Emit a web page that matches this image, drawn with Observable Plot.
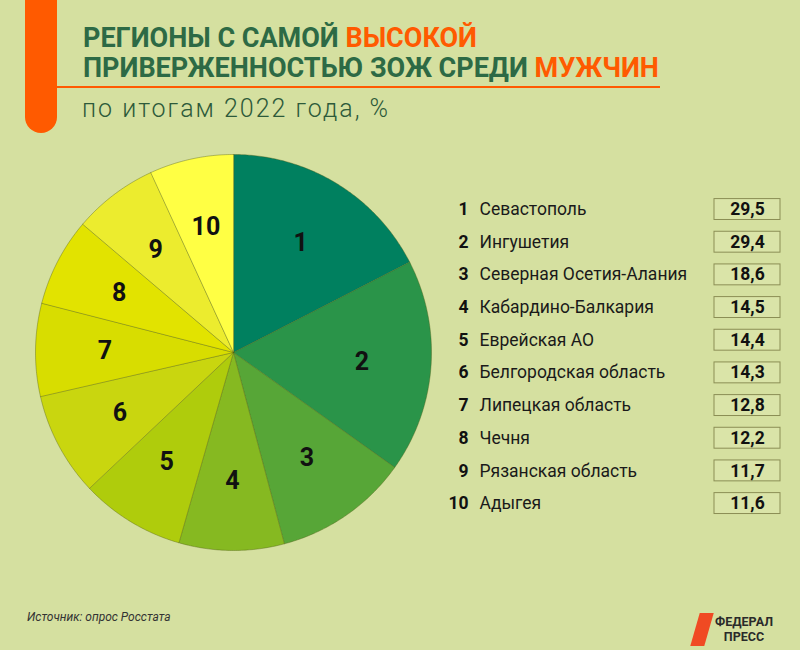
<!DOCTYPE html>
<html>
<head>
<meta charset="utf-8">
<script src="https://cdn.jsdelivr.net/npm/d3@7"></script>
<script src="https://cdn.jsdelivr.net/npm/@observablehq/plot@0.6"></script>
<style>
  html, body { margin: 0; padding: 0; }
  body { width: 800px; height: 650px; background: #d5e0a0; overflow: hidden; font-family: Roboto, "Noto Sans", sans-serif; }
  #wrap { position: relative; width: 800px; height: 650px; }
  .bar { position: absolute; left: 25px; top: -20px; width: 32px; height: 153px; background: #ff5a00; border-radius: 0 0 16px 16px; }
  .rule { position: absolute; left: 57px; top: 86px; width: 603px; height: 2px; background: #ff5a00; }
  .t { position: absolute; left: 83px; font-weight: 700; font-size: 27px; color: #2d6a45; white-space: nowrap; }
  .t span { color: #ff5a00; }
  .sub { position: absolute; left: 82px; top: 94px; font-weight: 300; font-size: 25px; letter-spacing: 2px; color: #2d5a3a; white-space: nowrap; }
  #pie { position: absolute; left: 33px; top: 152px; }
  #legend { position: absolute; left: 440px; top: 190px; }
  .src { position: absolute; left: 27px; top: 610px; font-size: 12px; font-style: italic; color: #333; }
  .logo { position: absolute; left: 688px; top: 610px; width: 84px; height: 38px; }
  .logo .ic { position: absolute; left: 7px; top: 3px; width: 14px; height: 33px; background: #f04a23; transform: skewX(-16deg); }
  .logo .tx { position: absolute; left: 27px; top: 4px; font-weight: 700; font-size: 12.5px; line-height: 15px; color: #2a2a2a; text-align: center; }
</style>
</head>
<body>
<div id="wrap">
  <div class="bar"></div>
  <div class="t" style="top:22px">РЕГИОНЫ С САМОЙ <span>ВЫСОКОЙ</span></div>
  <div class="t" style="top:52px">ПРИВЕРЖЕННОСТЬЮ ЗОЖ СРЕДИ <span>МУЖЧИН</span></div>
  <div class="rule"></div>
  <div class="sub">по итогам 2022 года, %</div>
  <div id="pie"></div>
  <div id="legend"></div>
  <div class="src">Источник: опрос Росстата</div>
  <div class="logo"><div class="ic"></div><div class="tx">ФЕДЕРАЛ<br>ПРЕСС</div></div>
</div>
<script>
const ranks = [1, 2, 3, 4, 5, 6, 7, 8, 9, 10];
const regions = ["Севастополь", "Ингушетия", "Северная Осетия-Алания", "Кабардино-Балкария", "Еврейская АО", "Белгородская область", "Липецкая область", "Чечня", "Рязанская область", "Адыгея"];
const values = [29.5, 29.4, 18.6, 14.5, 14.4, 14.3, 12.8, 12.2, 11.7, 11.6];
const colors = ["#00805f", "#2a9449", "#57a637", "#86b921", "#afcc0c", "#c9d60f", "#d8dd00", "#e2e300", "#ecec2e", "#ffff44"];

const rows = ranks.map((r, i) => ({rank: r, region: regions[i], value: values[i]}));

// Pie slices from d3.pie (clockwise from 12 o'clock)
const arcs = d3.pie().sort(null).value(d => d.value)(rows);
const pts = [];
const labels = [];
for (const a of arcs) {
  const r = a.data.rank;
  pts.push({rank: r, x: 0, y: 0});
  const n = Math.max(2, Math.ceil((a.endAngle - a.startAngle) / 0.01));
  for (let k = 0; k <= n; k++) {
    const t = a.startAngle + (a.endAngle - a.startAngle) * k / n;
    pts.push({rank: r, x: Math.sin(t), y: Math.cos(t)});
  }
  const m = (a.startAngle + a.endAngle) / 2;
  labels.push({rank: r, x: 0.65 * Math.sin(m), y: 0.65 * Math.cos(m)});
}

const pie = Plot.plot({
  width: 400, height: 400,
  margin: 0,
  x: {domain: [-1, 1], range: [2, 398], axis: null},
  y: {domain: [-1, 1], range: [398, 2], axis: null},
  color: {domain: ranks, range: colors},
  style: {background: "transparent", overflow: "visible"},
  marks: [
    Plot.line(pts, {x: "x", y: "y", z: "rank", fill: "rank", stroke: "#4d5a12", strokeOpacity: 0.55, strokeWidth: 0.7, curve: "linear-closed"}),
    Plot.text(labels, {x: "x", y: "y", text: d => String(d.rank), fontSize: 25, fontWeight: 700, fill: "#111", fontFamily: "Roboto"})
  ]
});
document.getElementById("pie").appendChild(pie);

const legend = Plot.plot({
  width: 345, height: 330,
  margin: 0,
  x: {type: "band", domain: ["box"], range: [274, 340], padding: 0, round: false, axis: null},
  y: {type: "band", domain: ranks, range: [2.7, 329.4], paddingInner: 0.36, paddingOuter: 0.18, round: false, axis: null},
  style: {background: "transparent", overflow: "visible", fontFamily: "Roboto"},
  marks: [
    Plot.cell(rows, {x: () => "box", y: "rank", fill: "#dae4a8", stroke: "#8b8e55", strokeWidth: 1}),
    Plot.text(rows, {y: "rank", text: d => String(d.rank), frameAnchor: "left", dx: 28, textAnchor: "end", fontSize: 17.5, fontWeight: 700, fill: "#111"}),
    Plot.text(rows, {y: "rank", text: "region", frameAnchor: "left", dx: 39, textAnchor: "start", fontSize: 17.5, fill: "#1a1a1a"}),
    Plot.text(rows, {x: () => "box", y: "rank", text: d => d.value.toFixed(1).replace(".", ","), fontSize: 17.5, fontWeight: 700, fill: "#111"})
  ]
});
document.getElementById("legend").appendChild(legend);
</script>
</body>
</html>
